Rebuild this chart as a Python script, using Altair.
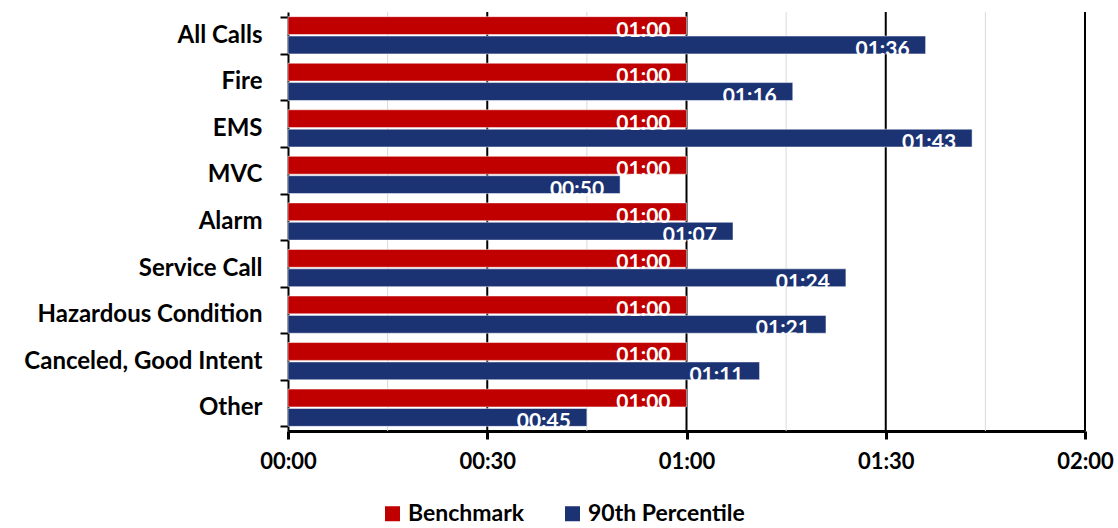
import altair as alt
import pandas as pd

# Call types, top to bottom
categories = [
    "All Calls", "Fire", "EMS", "MVC", "Alarm", "Service Call",
    "Hazardous Condition", "Canceled, Good Intent", "Other",
]
# Times in seconds
benchmark = [60, 60, 60, 60, 60, 60, 60, 60, 60]
percentile_90 = [96, 76, 103, 50, 67, 84, 81, 71, 45]

series_names = ["Benchmark", "90th Percentile"]
series_colors = ["#C00000", "#1B3273"]

x_ticks = [0, 30, 60, 90, 120]
minor_grid = [15, 45, 75, 105]
major_grid = [30, 60, 90, 120]

FONT = "Lato"


def mmss(sec):
    return f"{int(sec) // 60:02d}:{int(sec) % 60:02d}"


rows = []
for cat, b, p in zip(categories, benchmark, percentile_90):
    rows.append({"category": cat, "series": series_names[0], "seconds": b, "label": mmss(b)})
    rows.append({"category": cat, "series": series_names[1], "seconds": p, "label": mmss(p)})
df = pd.DataFrame(rows)

x_scale = alt.Scale(domain=[0, 120], nice=False, zero=True)
y_enc = alt.Y(
    "category:N",
    sort=categories,
    scale=alt.Scale(paddingInner=0.2, paddingOuter=0.1),
    axis=alt.Axis(
        title=None,
        tickBand="extent",
        domainColor="black",
        domainWidth=2,
        tickColor="black",
        tickWidth=2,
        tickSize=8,
        labelFont=FONT,
        labelFontSize=24,
        labelFontWeight="bold",
        labelColor="black",
        labelPadding=18,
        labelLimit=0,
    ),
)
y_off = alt.YOffset("series:N", sort=series_names, scale=alt.Scale(paddingInner=0.08))

minor = (
    alt.Chart(pd.DataFrame({"v": minor_grid}))
    .mark_rule(color="#D9D9D9", strokeWidth=1)
    .encode(x=alt.X("v:Q", scale=x_scale))
)
major = (
    alt.Chart(pd.DataFrame({"v": major_grid}))
    .mark_rule(color="black", strokeWidth=2)
    .encode(x=alt.X("v:Q", scale=x_scale))
)

bars = (
    alt.Chart(df)
    .mark_bar(stroke="white", strokeWidth=0.5)
    .encode(
        y=y_enc,
        yOffset=y_off,
        x=alt.X(
            "seconds:Q",
            scale=x_scale,
            axis=alt.Axis(
                title=None,
                values=x_ticks,
                grid=False,
                labelFlush=False,
                labelExpr="(floor(datum.value/60) < 10 ? '0' : '') + floor(datum.value/60) + ':' + (datum.value % 60 < 10 ? '0' : '') + (datum.value % 60)",
                domainColor="black",
                domainWidth=3,
                tickColor="black",
                tickWidth=3,
                tickSize=8,
                labelFont=FONT,
                labelFontSize=22,
                labelFontWeight="bold",
                labelColor="black",
                labelPadding=12,
            ),
        ),
        color=alt.Color(
            "series:N",
            sort=series_names,
            scale=alt.Scale(domain=series_names, range=series_colors),
            legend=alt.Legend(
                title=None,
                orient="none",
                direction="horizontal",
                legendX=93,
                legendY=490,
                symbolType="square",
                symbolSize=225,
                symbolStrokeWidth=0,
                symbolOpacity=1,
                labelFont=FONT,
                labelFontSize=23,
                labelFontWeight="bold",
                labelColor="black",
                columnPadding=36,
                labelOffset=4,
                labelLimit=0,
            ),
        ),
    )
)

labels = (
    alt.Chart(df)
    .mark_text(
        align="right",
        baseline="alphabetic",
        dx=-16,
        dy=11,
        color="white",
        font=FONT,
        fontSize=21,
        fontWeight="bold",
    )
    .encode(
        y=alt.Y("category:N", sort=categories),
        yOffset=alt.YOffset("series:N", sort=series_names),
        x=alt.X("seconds:Q", scale=x_scale),
        text="label:N",
    )
)

chart = (
    alt.layer(minor, major, bars, labels)
    .properties(
        width=797,
        height=419,
        autosize=alt.AutoSizeParams(type="none"),
        padding={"left": 288, "top": 12, "right": 33, "bottom": 97},
    )
    .configure_view(stroke=None)
)

chart.save("out.html", embed_options={"renderer": "svg", "actions": False})
